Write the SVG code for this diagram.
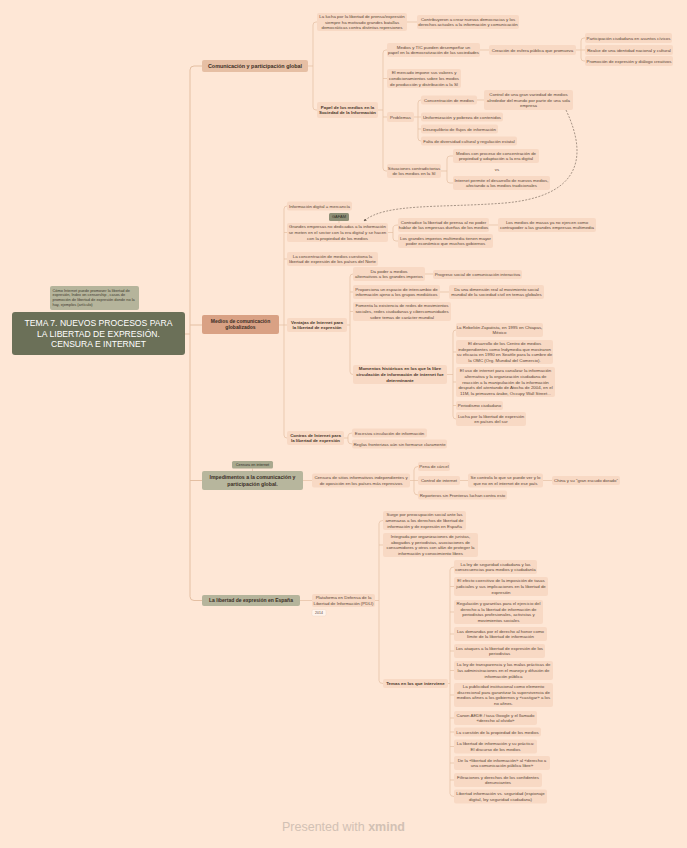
<svg xmlns="http://www.w3.org/2000/svg" width="687" height="848" viewBox="0 0 687 848">
<style>
text{font-family:"Liberation Sans",Arial,sans-serif;fill:#5B4637;text-anchor:middle;font-size:4.4px}
.n rect{fill:#F8D9C4}
.b{font-weight:bold;fill:#4A372B}
.l1 text{font-weight:bold;fill:#3B2E25;font-size:5.2px}
.c path{fill:none;stroke:#E4BFA2;stroke-width:0.7}
.c .tr{stroke-width:1}
</style>
<defs>
<marker id="ah" viewBox="0 0 6 6" refX="5" refY="3" markerWidth="5" markerHeight="5" orient="auto"><path d="M0,0 L6,3 L0,6 Z" fill="#6B5C50"/></marker>
</defs>
<rect width="687" height="848" fill="#FEE7D6"/>
<g id="connectors" class="c">
<path class="tr" d="M185,334 H190 M202,66 H194 Q190,66 190,70 V596.5 Q190,600.5 194,600.5 H202 M190,325 H202 M190,480.5 H202"/>
<path d="M308,66 H313 M317,22 H316 Q313,22 313,25 V107 Q313,110 316,110 H317 M407,22 H417"/>
<path d="M378,110 H383 M387,50 H386 Q383,50 383,53 V168 Q383,171 386,171 H387 M383,78.5 H387 M383,117 H387 M480,50 H489"/>
<path d="M576,50 H585 M585,38 H584 Q581,38 581,41 V58 Q581,61 584,61 H585"/>
<path d="M414,117 H418 M421,100 Q418,100 418,103 V138 Q418,141 421,141 M418,117 H421 M418,129 H421 M477,100 H484"/>
<path d="M441,171 H447 M453,156 H450 Q447,156 447,159 V180 Q447,183 450,183 H453"/>
<path d="M279,325 H284 M287,206 Q284,206 284,209 V435 Q284,438 287,438 M284,232.5 H287 M284,259 H287 M284,325 H287 M339,221 V223"/>
<path d="M388,232.5 H393 M398,225 Q393,225 393,228 V238 Q393,241 396,241 H398 M489,225 H498"/>
<path d="M347,325 H350 M353,274 Q350,274 350,277 V371.5 Q350,374.5 353,374.5 M350,292 H353 M350,311.5 H353 M425,274 H433 M440,292 H449"/>
<path d="M447,374.5 H453 M456,330 Q453,330 453,333 V416 Q453,419 456,419 M453,352 H456 M453,382 H456 M453,405.5 H456"/>
<path d="M344,438 H348 M352,433 Q348,433 348,436 V441 Q348,444 352,444"/>
<path d="M252.5,468.5 V471 M303,480.5 H312 M410,480.5 H414 M418,466.5 Q414,466.5 414,470 V491.5 Q414,495 418,495 M414,480.5 H418 M460,480.5 H468 M543,480.5 H552"/>
<path d="M300,600.5 H312 M375,600.5 H379 M383,520.5 Q379,520.5 379,523.5 V680.5 Q379,683.5 383,683.5 M379,545 H383"/>
<path d="M448,683.5 H450 M454,567 Q450,567 450,570 V793.5 Q450,796.5 454,796.5 M450,586.5 H454 M450,612 H454 M450,634 H454 M450,651 H454 M450,670.5 H454 M450,695 H454 M450,718 H454 M450,732 H454 M450,746.5 H454 M450,763 H454 M450,780 H454"/>
<path d="M566,110 C592,165 572,197 505,203 C440,208 385,203 364,221" style="stroke:#6B5C50;stroke-width:0.6;stroke-dasharray:2,1.4" marker-end="url(#ah)"/>
</g>

<g id="central">
<rect x="12" y="312" width="173" height="43" rx="3" fill="#6B7058"/>
<text style="fill:#fff;font-size:8.6px"><tspan x="98.5" y="326.1">TEMA 7. NUEVOS PROCESOS PARA</tspan><tspan x="98.5" y="336.6">LA LIBERTAD DE EXPRESIÓN.</tspan><tspan x="98.5" y="347.1">CENSURA E INTERNET</tspan></text>
</g>
<g id="note">
<rect x="50" y="286" width="89" height="24" rx="2" fill="#B5B49B"/>
<text style="font-size:3.9px;text-anchor:start;fill:#3E3A2E"><tspan x="52.5" y="291.5">Cómo Internet puede promover la libertad de</tspan><tspan x="52.5" y="296.3">expresión, Index on censorship , casos de</tspan><tspan x="52.5" y="301.1">promoción de libertad de expresión donde no la</tspan><tspan x="52.5" y="305.9">hay, ejemplos (artículo)</tspan></text>
</g>

<g id="n1" class="l1"><rect x="202" y="60" width="106" height="12" rx="2" fill="#E6BFA4"/><text x="255" y="67.9" style="font-size:5.4px">Comunicación y participación global</text></g>
<g id="n1a" class="n"><rect x="317" y="13" width="90" height="18" rx="2"/><text><tspan x="362" y="17.9">La lucha por la libertad de prensa/expresión</tspan><tspan x="362" y="23.5">siempre ha motivado grandes batallas</tspan><tspan x="362" y="29.1">democráticas contra distintas represiones</tspan></text></g>
<g id="n1a1" class="n"><rect x="417" y="15" width="102" height="14" rx="2"/><text><tspan x="468" y="20.7">Contribuyeron a crear nuevas democracias y los</tspan><tspan x="468" y="26.3">derechos actuales a la información y comunicación</tspan></text></g>
<g id="n1b" class="n"><rect x="317" y="102" width="61" height="16" rx="2"/><text class="b"><tspan x="347.5" y="108.7">Papel de los medios en la</tspan><tspan x="347.5" y="114.3">Sociedad de la Información</tspan></text></g>
<g id="n1b1" class="n"><rect x="387" y="43" width="93" height="14" rx="2"/><text><tspan x="433.5" y="48.7">Medios y TIC pueden desempeñar un</tspan><tspan x="433.5" y="54.3">papel en la democratización de las sociedades</tspan></text></g>
<g id="n1b1a" class="n"><rect x="489" y="45" width="87" height="10" rx="2"/><text x="532.5" y="51.5">Creación de esfera pública que promueva</text></g>
<g id="n1b1a1" class="n"><rect x="585" y="33" width="87" height="10" rx="2"/><text x="628.5" y="39.5">Participación ciudadana en asuntos cívicos</text></g>
<g id="n1b1a2" class="n"><rect x="585" y="45" width="88" height="10" rx="2"/><text x="629" y="51.5">Realce de una identidad nacional y cultural</text></g>
<g id="n1b1a3" class="n"><rect x="585" y="56" width="88" height="10" rx="2"/><text x="629" y="62.5">Promoción de expresión y diálogo creativos</text></g>
<g id="n1b2" class="n"><rect x="387" y="69" width="74" height="19" rx="2"/><text><tspan x="424" y="74.4">El mercado impone sus valores y</tspan><tspan x="424" y="80">condicionamientos sobre los modos</tspan><tspan x="424" y="85.6">de producción y distribución a la SI</tspan></text></g>
<g id="n1b3" class="n"><rect x="387" y="112" width="27" height="10" rx="2"/><text x="400.5" y="118.5">Problemas</text></g>
<g id="n1b3a" class="n"><rect x="421" y="95.5" width="56" height="9" rx="2"/><text x="449" y="101.5">Concentración de medios</text></g>
<g id="n1b3a1" class="n"><rect x="484" y="90" width="89" height="20" rx="2"/><text><tspan x="528.5" y="95.9">Control de una gran variedad de medios</tspan><tspan x="528.5" y="101.5">alrededor del mundo por parte de una sola</tspan><tspan x="528.5" y="107.1">empresa</tspan></text></g>
<g id="n1b3b" class="n"><rect x="421" y="112.5" width="82" height="9" rx="2"/><text x="462" y="118.5">Uniformización y pobreza de contenidos</text></g>
<g id="n1b3c" class="n"><rect x="421" y="124.5" width="77" height="9" rx="2"/><text x="459.5" y="130.5">Desequilibrio de flujos de información</text></g>
<g id="n1b3d" class="n"><rect x="421" y="136.5" width="96" height="9" rx="2"/><text x="469" y="142.5">Falta de diversidad cultural y regulación estatal</text></g>
<g id="n1b4" class="n"><rect x="387" y="164" width="54" height="14" rx="2"/><text><tspan x="414" y="169.7">Situaciones contradictorias</tspan><tspan x="414" y="175.3">de los medios en la SI</tspan></text></g>
<g id="n1b4a" class="n"><rect x="453" y="149" width="86" height="14" rx="2"/><text><tspan x="496" y="154.7">Medios con proceso de concentración de</tspan><tspan x="496" y="160.3">propiedad y adaptación a la era digital</tspan></text></g>
<g id="vs"><text x="497" y="170.7">vs</text></g>
<g id="n1b4b" class="n"><rect x="453" y="176" width="97" height="14" rx="2"/><text><tspan x="501.5" y="181.7">Internet permite el desarrollo de nuevos medios,</tspan><tspan x="501.5" y="187.3">afectando a los medios tradicionales</tspan></text></g>

<g id="n2" class="l1"><rect x="202" y="315" width="77" height="19" rx="2" fill="#D9A184"/><text style="font-size:5px"><tspan x="240.5" y="323.1">Medios de comunicación</tspan><tspan x="240.5" y="329.3">globalizados</tspan></text></g>
<g id="n2a" class="n"><rect x="287" y="201.5" width="65" height="9" rx="2"/><text x="319.5" y="207.5">Información digital = mercancía</text></g>
<g id="gafam"><rect x="329" y="213" width="20" height="8" rx="1.5" fill="#8E8F76"/><text x="339" y="218.4" style="font-size:4px;fill:#2F2E25">GAFAM</text></g>
<g id="n2b" class="n"><rect x="287" y="223" width="101" height="19" rx="2"/><text><tspan x="337.5" y="228.4">Grandes empresas no dedicadas a la información</tspan><tspan x="337.5" y="234">se meten en el sector con la era digital y se hacen</tspan><tspan x="337.5" y="239.6">con la propiedad de los medios</tspan></text></g>
<g id="n2b1" class="n"><rect x="398" y="218" width="91" height="14" rx="2"/><text><tspan x="443.5" y="223.7">Contradice la libertad de prensa al no poder</tspan><tspan x="443.5" y="229.3">hablar de las empresas dueñas de los medios</tspan></text></g>
<g id="n2b1a" class="n"><rect x="498" y="218" width="98" height="14" rx="2"/><text><tspan x="547" y="223.7">Los medios de masas ya no ejercen como</tspan><tspan x="547" y="229.3">contrapoder a las grandes empresas multimedia</tspan></text></g>
<g id="n2b2" class="n"><rect x="398" y="234" width="95" height="14" rx="2"/><text><tspan x="445.5" y="239.7">Los grandes imperios multimedia tienen mayor</tspan><tspan x="445.5" y="245.3">poder económico que muchos gobiernos</tspan></text></g>
<g id="n2c" class="n"><rect x="287" y="252" width="91" height="14" rx="2"/><text><tspan x="332.5" y="257.7">La concentración de medios cuestiona la</tspan><tspan x="332.5" y="263.3">libertad de expresión de los países del Norte</tspan></text></g>
<g id="n2d" class="n"><rect x="287" y="318" width="60" height="14" rx="2"/><text class="b"><tspan x="317" y="323.7">Ventajas de Internet para</tspan><tspan x="317" y="329.3">la libertad de expresión</tspan></text></g>
<g id="n2d1" class="n"><rect x="353" y="267" width="72" height="14" rx="2"/><text><tspan x="389" y="272.7">Da poder a medios</tspan><tspan x="389" y="278.3">alternativos a los grandes imperios</tspan></text></g>
<g id="n2d1a" class="n"><rect x="433" y="270" width="89" height="9" rx="2"/><text x="477.5" y="276">Progreso social de comunicación interactiva</text></g>
<g id="n2d2" class="n"><rect x="353" y="285" width="87" height="14" rx="2"/><text><tspan x="396.5" y="290.7">Proporciona un espacio de intercambio de</tspan><tspan x="396.5" y="296.3">información ajeno a los grupos mediáticos</tspan></text></g>
<g id="n2d2a" class="n"><rect x="449" y="285" width="95" height="14" rx="2"/><text><tspan x="496.5" y="290.7">Da una dimensión real al movimiento social</tspan><tspan x="496.5" y="296.3">mundial de la sociedad civil en temas globales</tspan></text></g>
<g id="n2d3" class="n"><rect x="353" y="302" width="98" height="19" rx="2"/><text><tspan x="402" y="307.4">Fomenta la existencia de redes de movimientos</tspan><tspan x="402" y="313">sociales, redes ciudadanas y cibercomunidades</tspan><tspan x="402" y="318.6">sobre temas de carácter mundial</tspan></text></g>
<g id="n2d4" class="n"><rect x="353" y="365" width="94" height="19" rx="2"/><text class="b"><tspan x="400" y="370.4">Momentos históricos en los que la libre</tspan><tspan x="400" y="376">circulación de información de internet fue</tspan><tspan x="400" y="381.6">determinante</tspan></text></g>
<g id="n2d4a" class="n"><rect x="456" y="323" width="87" height="14" rx="2"/><text><tspan x="499.5" y="328.7">La Rebelión Zapatista, en 1995 en Chiapas,</tspan><tspan x="499.5" y="334.3">México</tspan></text></g>
<g id="n2d4b" class="n"><rect x="456" y="340" width="97" height="24" rx="2"/><text><tspan x="504.5" y="345.1">El desarrollo de los Centro de medios</tspan><tspan x="504.5" y="350.7">independientes como Indymedia que mostraron</tspan><tspan x="504.5" y="356.3">su eficacia en 1990 en Seattle para la cumbre de</tspan><tspan x="504.5" y="361.9">la OMC (Org. Mundial del Comercio).</tspan></text></g>
<g id="n2d4c" class="n"><rect x="456" y="367" width="99" height="30" rx="2"/><text><tspan x="505.5" y="372.3">El uso de internet para canalizar la información</tspan><tspan x="505.5" y="377.9">alternativa y la organización ciudadana de</tspan><tspan x="505.5" y="383.5">reacción a la manipulación de la información</tspan><tspan x="505.5" y="389.1">después del atentando de Atocha de 2004, en el</tspan><tspan x="505.5" y="394.7">11M, la primavera árabe, Occupy Wall Street...</tspan></text></g>
<g id="n2d4d" class="n"><rect x="456" y="401" width="47" height="9" rx="2"/><text x="479.5" y="407">Periodismo ciudadano</text></g>
<g id="n2d4e" class="n"><rect x="456" y="412" width="70" height="14" rx="2"/><text><tspan x="491" y="417.7">Lucha por la libertad de expresión</tspan><tspan x="491" y="423.3">en países del sur</tspan></text></g>
<g id="n2e" class="n"><rect x="287" y="431" width="57" height="14" rx="2"/><text class="b"><tspan x="315.5" y="436.7">Contras de Internet para</tspan><tspan x="315.5" y="442.3">la libertad de expresión</tspan></text></g>
<g id="n2e1" class="n"><rect x="352" y="428.5" width="75" height="9" rx="2"/><text x="389.5" y="434.5">Excesiva circulación de información</text></g>
<g id="n2e2" class="n"><rect x="352" y="439.5" width="95" height="9" rx="2"/><text x="399.5" y="445.5">Reglas fronterizas aún sin formarse claramente</text></g>

<g id="n3" class="l1"><rect x="202" y="471" width="101" height="19" rx="2" fill="#B7B69D"/><text><tspan x="252.5" y="479.1">Impedimentos a la comunicación y</tspan><tspan x="252.5" y="485.5">participación global.</tspan></text></g>
<g id="n3label"><rect x="232" y="461" width="41" height="7.5" rx="1.5" fill="#A9A98F"/><text x="252.5" y="466.2" style="font-size:3.8px;fill:#2F2E25">Censura en internet</text></g>
<g id="n3a" class="n"><rect x="312" y="473.5" width="98" height="14" rx="2"/><text><tspan x="361" y="479.2">Censura de sitios informativos independientes y</tspan><tspan x="361" y="484.8">de oposición en los países más represivos</tspan></text></g>
<g id="n3a1" class="n"><rect x="418" y="462" width="32" height="9" rx="2"/><text x="434" y="468">Pena de cárcel</text></g>
<g id="n3a2" class="n"><rect x="418" y="476" width="42" height="9" rx="2"/><text x="439" y="482">Control de internet</text></g>
<g id="n3a2a" class="n"><rect x="468" y="473.5" width="75" height="14" rx="2"/><text><tspan x="505.5" y="479.2">Se controla lo que se puede ver y lo</tspan><tspan x="505.5" y="484.8">que no en el internet de ese país</tspan></text></g>
<g id="n3a2a1" class="n"><rect x="552" y="476" width="68" height="9" rx="2"/><text x="586" y="482">China y su “gran escudo dorado”</text></g>
<g id="n3a3" class="n"><rect x="418" y="490.5" width="89" height="9" rx="2"/><text x="462.5" y="496.5">Reporteros sin Fronteras luchan contra esto</text></g>

<g id="n4" class="l1"><rect x="202" y="595" width="98" height="11" rx="2" fill="#B5B49B"/><text x="251" y="602.3" style="font-size:5px">La libertad de expresión en España</text></g>
<g id="n4a" class="n"><rect x="312" y="594" width="63" height="13" rx="2"/><text><tspan x="343.5" y="599.2">Plataforma en Defensa de la</tspan><tspan x="343.5" y="604.8">Libertad de Información (PDLI)</tspan></text></g>
<g id="n4label"><rect x="312" y="609.5" width="14" height="6.5" rx="1.5" fill="#FFF4EC" stroke="#EBD3C2" stroke-width="0.4"/><text x="319" y="614.1" style="font-size:3.5px">2014</text></g>
<g id="n4a1" class="n"><rect x="383" y="511" width="83" height="19" rx="2"/><text><tspan x="424.5" y="516.4">Surge por preocupación social ante las</tspan><tspan x="424.5" y="522">amenazas a los derechos de libertad de</tspan><tspan x="424.5" y="527.6">información y de expresión en España</tspan></text></g>
<g id="n4a2" class="n"><rect x="383" y="533" width="95" height="24" rx="2"/><text><tspan x="430.5" y="538.1">Integrada por organizaciones de juristas,</tspan><tspan x="430.5" y="543.7">abogados y periodistas, asociaciones de</tspan><tspan x="430.5" y="549.3">consumidores y otros con afán de proteger la</tspan><tspan x="430.5" y="554.9">información y conocimiento libres</tspan></text></g>
<g id="n4a3" class="n"><rect x="383" y="679" width="65" height="9" rx="2"/><text class="b" x="415.5" y="685">Temas en los que interviene</text></g>
<g id="t1" class="n"><rect x="454" y="560" width="83" height="14" rx="2"/><text><tspan x="495.5" y="565.7">La ley de seguridad ciudadana y las</tspan><tspan x="495.5" y="571.3">consecuencias para medios y ciudadanía</tspan></text></g>
<g id="t2" class="n"><rect x="454" y="577" width="94" height="19" rx="2"/><text><tspan x="501" y="582.4">El efecto coercitivo de la imposición de tasas</tspan><tspan x="501" y="588">judiciales y sus implicaciones en la libertad de</tspan><tspan x="501" y="593.6">expresión</tspan></text></g>
<g id="t3" class="n"><rect x="454" y="600" width="89" height="24" rx="2"/><text><tspan x="498.5" y="605.1">Regulación y garantías para el ejercicio del</tspan><tspan x="498.5" y="610.7">derecho a la libertad de información de</tspan><tspan x="498.5" y="616.3">periodistas profesionales, activistas y</tspan><tspan x="498.5" y="621.9">movimientos sociales</tspan></text></g>
<g id="t4" class="n"><rect x="454" y="627" width="93" height="14" rx="2"/><text><tspan x="500.5" y="632.7">Las demandas por el derecho al honor como</tspan><tspan x="500.5" y="638.3">límite de la libertad de información</tspan></text></g>
<g id="t5" class="n"><rect x="454" y="644" width="91" height="14" rx="2"/><text><tspan x="499.5" y="649.7">Los ataques a la libertad de expresión de los</tspan><tspan x="499.5" y="655.3">periodistas</tspan></text></g>
<g id="t6" class="n"><rect x="454" y="661" width="99" height="19" rx="2"/><text><tspan x="503.5" y="666.4">La ley de transparencia y las malas prácticas de</tspan><tspan x="503.5" y="672">las administraciones en el manejo y difusión de</tspan><tspan x="503.5" y="677.6">información pública</tspan></text></g>
<g id="t7" class="n"><rect x="454" y="683" width="99" height="24" rx="2"/><text><tspan x="503.5" y="688.1">La publicidad institucional como elemento</tspan><tspan x="503.5" y="693.7">discrecional para garantizar la supervivencia de</tspan><tspan x="503.5" y="699.3">medios afines a los gobiernos y «castigar» a los</tspan><tspan x="503.5" y="704.9">no afines.</tspan></text></g>
<g id="t8" class="n"><rect x="454" y="711" width="83" height="14" rx="2"/><text><tspan x="495.5" y="716.7">Canon AEDE / tasa Google y el llamado</tspan><tspan x="495.5" y="722.3">«derecho al olvido»</tspan></text></g>
<g id="t9" class="n"><rect x="454" y="727.5" width="87" height="9" rx="2"/><text x="497.5" y="733.5">La cuestión de la propiedad de los medios</text></g>
<g id="t10" class="n"><rect x="454" y="739.5" width="83" height="14" rx="2"/><text><tspan x="495.5" y="745.2">La libertad de información y su práctica:</tspan><tspan x="495.5" y="750.8">El discurso de los medios</tspan></text></g>
<g id="t11" class="n"><rect x="454" y="756" width="96" height="14" rx="2"/><text><tspan x="502" y="761.7">De la «libertad de información» al «derecho a</tspan><tspan x="502" y="767.3">una comunicación pública libre»</tspan></text></g>
<g id="t12" class="n"><rect x="454" y="773" width="88" height="14" rx="2"/><text><tspan x="498" y="778.7">Filtraciones y derechos de los confidentes</tspan><tspan x="498" y="784.3">denunciantes</tspan></text></g>
<g id="t13" class="n"><rect x="454" y="789.5" width="93" height="14" rx="2"/><text><tspan x="500.5" y="795.2">Libertad información vs. seguridad (espionaje</tspan><tspan x="500.5" y="800.8">digital, ley seguridad ciudadana)</tspan></text></g>

<g id="footer"><text x="343.5" y="831" style="font-size:12.5px;fill:#D2C1B4">Presented with <tspan style="font-weight:bold">xmind</tspan></text></g>
</svg>
